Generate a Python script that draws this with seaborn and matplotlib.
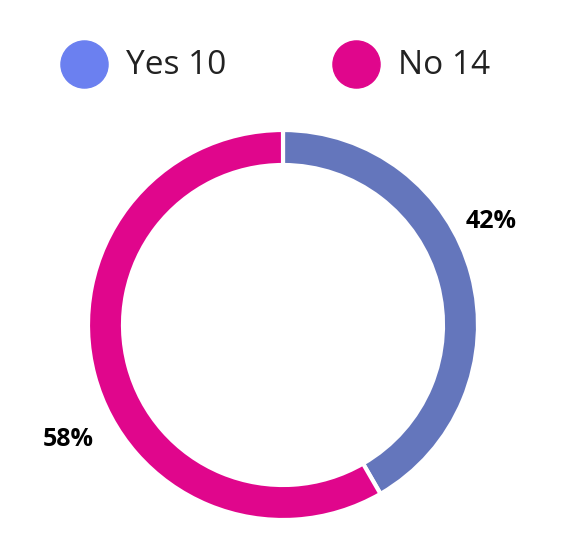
import matplotlib
matplotlib.use("Agg")
import matplotlib.pyplot as plt
import seaborn as sns

labels = ["Yes", "No"]
counts = [10, 14]
pcts = ["42%", "58%"]
ring_colors = ["#6476BC", "#E0068C"]
legend_colors = ["#6B80F0", "#E0068C"]

sns.set_style("white")
plt.rcParams['font.family'] = ['Open Sans', 'DejaVu Sans']
fig = plt.figure(figsize=(5.66, 5.48), dpi=100)
W, H = 566, 548
ax = fig.add_axes([0, 0, 1, 1])
ax.set_xlim(0, W); ax.set_ylim(H, 0); ax.set_aspect('equal'); ax.axis('off')

cx, cy, R = 283, 325, 195
sub = fig.add_axes([(cx - R) / W, 1 - (cy + R) / H, 2 * R / W, 2 * R / H])
sub.pie(counts, colors=ring_colors, startangle=90, counterclock=False, radius=1,
        wedgeprops=dict(width=35 / R, edgecolor='white', linewidth=3))
sub.set_xlim(-1, 1); sub.set_ylim(-1, 1)
sub.set_aspect('equal'); sub.axis('off')

ax.text(491, 222, pcts[0], fontsize=18, fontweight='bold', ha='center', va='center', color='black')
ax.text(68, 440, pcts[1], fontsize=18, fontweight='bold', ha='center', va='center', color='black')

for x, lab, c, col in [(84, labels[0], counts[0], legend_colors[0]), (356, labels[1], counts[1], legend_colors[1])]:
    ax.scatter([x], [64], s=1150, color=col, zorder=3)
    ax.text(x + 42, 65, f"{lab} {c}", fontsize=24, ha='left', va='center', color='#222222')

fig.savefig("out.png", dpi=100)
